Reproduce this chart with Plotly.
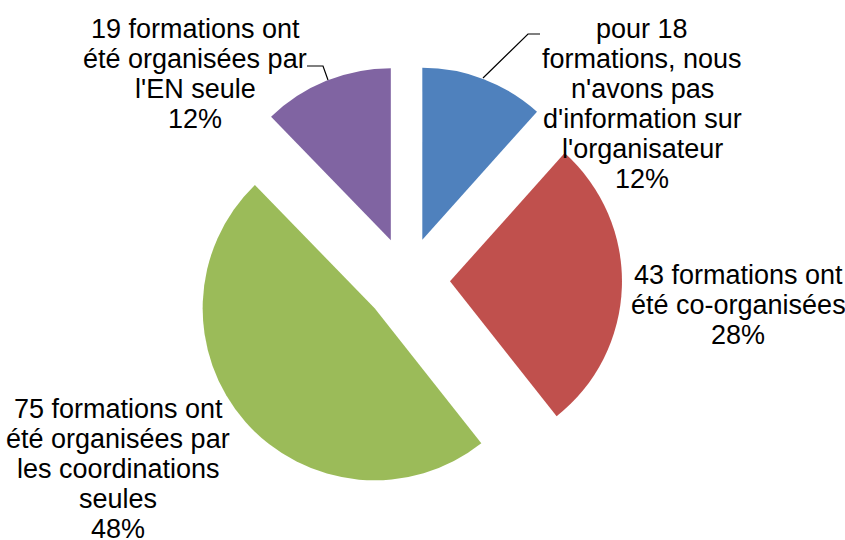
import plotly.graph_objects as go

W, H = 845, 540

categories = [
    ["pour 18", "formations, nous", "n'avons pas", "d'information sur", "l'organisateur"],
    ["43 formations ont", "été co-organisées"],
    ["75 formations ont", "été organisées par", "les coordinations", "seules"],
    ["19 formations ont", "été organisées par", "l'EN seule"],
]
values = [18, 43, 75, 19]
colors = ["#4F81BD", "#C0504D", "#9BBB59", "#8064A2"]

total = sum(values)
percents = [round(v / total * 100) for v in values]

# label anchor: centre x and centre y of first line, in pixels from top-left
label_pos = [(642, 29), (738, 275), (118, 409), (195, 29)]
line_step = 30


def px(x, y):
    return x / W, 1 - y / H


fig = go.Figure()
fig.add_trace(go.Pie(
    labels=[" ".join(c) for c in categories],
    values=values,
    sort=False,
    direction="clockwise",
    rotation=0,
    pull=[0.25] * len(values),
    marker=dict(colors=colors, line=dict(width=0)),
    textinfo="none",
    showlegend=False,
    domain=dict(x=[0.2272, 0.7361], y=[0.0833, 0.8796]),
))

for cat, pct, (lx, ly) in zip(categories, percents, label_pos):
    lines = cat + [f"{pct}%"]
    for i, line in enumerate(lines):
        ax, ay = px(lx, ly + i * line_step)
        fig.add_annotation(
            x=ax, y=ay, xref="paper", yref="paper",
            text=line,
            showarrow=False, xanchor="center", yanchor="middle",
            font=dict(family="Liberation Sans, Arial", size=27, color="black"),
        )

# leader lines
leaders = [
    [(483, 78), (528, 34), (540, 34)],
    [(307, 66), (323, 66), (328, 80)],
]
for pts in leaders:
    path = "M " + " L ".join(f"{px(x, y)[0]},{px(x, y)[1]}" for x, y in pts)
    fig.add_shape(type="path", path=path, xref="paper", yref="paper",
                  line=dict(color="black", width=1.2))

fig.update_layout(
    width=W, height=H,
    margin=dict(l=0, r=0, t=0, b=0),
    paper_bgcolor="white",
    plot_bgcolor="white",
)

fig.write_html("out.html", config={"displayModeBar": False},
               post_script="document.body.style.margin='0';")
